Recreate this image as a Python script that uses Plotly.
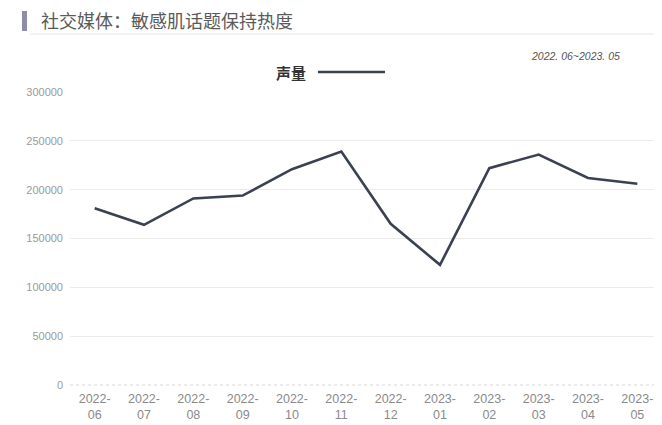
import plotly.graph_objects as go

categories = ["2022-<br>06", "2022-<br>07", "2022-<br>08", "2022-<br>09", "2022-<br>10", "2022-<br>11",
              "2022-<br>12", "2023-<br>01", "2023-<br>02", "2023-<br>03", "2023-<br>04", "2023-<br>05"]
volume = [181000, 164000, 191000, 194000, 221000, 239000, 165000, 123000, 222000, 236000, 212000, 206000]
y_ticks = [0, 50000, 100000, 150000, 200000, 250000, 300000]
series_name = "声量"
title_text = "社交媒体：敏感肌话题保持热度"
range_text = "2022. 06~2023. 05"

# page body has an 8px margin, so the figure is drawn offset by (8, 8)
OFF = 8
W, H = 662 - OFF, 425 - OFF
L, R, T, B = 70 - OFF, 0, 92 - OFF, 40
pw, ph = W - L - R, H - T - B

def px(x):
    return (x - OFF - L) / pw

def py(y):
    return (H - B - (y - OFF)) / ph

line_color = "#3a4252"
font = "Noto Sans CJK SC"

fig = go.Figure()
fig.add_trace(go.Scatter(
    x=categories, y=volume, mode="lines", name=series_name,
    line=dict(color=line_color, width=2.6), showlegend=False,
))

fig.update_layout(
    width=W, height=H,
    margin=dict(l=L, r=R, t=T, b=B),
    paper_bgcolor="white", plot_bgcolor="white",
    font=dict(family=font, color="#8a8a8a"),
    xaxis=dict(
        type="category", range=[-0.5, 11.5], showgrid=False, zeroline=False,
        showline=False, ticks="", ticklabelstandoff=4, automargin=False,
        tickfont=dict(size=12.5, color="#8a8a8a", family="Liberation Sans"),
    ),
    yaxis=dict(
        range=[0, 300000], tickvals=y_ticks, ticktext=[str(v) for v in y_ticks],
        showgrid=True, gridcolor="#ececec", gridwidth=1, zeroline=False,
        showline=False, ticks="", ticklabelstandoff=6, automargin=False,
        tickfont=dict(size=11, color="#9a9a9a", family="Liberation Sans"),
    ),
    shapes=[
        # title marker bar
        dict(type="rect", xref="paper", yref="paper", x0=px(22), x1=px(27), y0=py(31), y1=py(11),
             fillcolor="#8e8ca8", line=dict(width=0)),
        # title underline
        dict(type="line", xref="paper", yref="paper", x0=px(30), x1=px(662), y0=py(34), y1=py(34),
             line=dict(color="#e6e6e6", width=1)),
        # legend line
        dict(type="line", xref="paper", yref="paper", x0=px(318), x1=px(385), y0=py(72), y1=py(72),
             line=dict(color=line_color, width=2.6)),
        # dotted x axis baseline
        dict(type="line", xref="paper", yref="paper", x0=0, x1=1, y0=0, y1=0,
             line=dict(color="#d8d8d8", width=1, dash="dot")),
    ],
    annotations=[
        dict(text=title_text, xref="paper", yref="paper", x=px(39), y=py(20),
             xanchor="left", yanchor="middle", showarrow=False,
             font=dict(size=18, color="#5a5a5a", family=font)),
        dict(text="<b>" + series_name + "</b>", xref="paper", yref="paper", x=px(308), y=py(72),
             xanchor="right", yanchor="middle", showarrow=False,
             font=dict(size=15, color="#333333", family=font)),
        dict(text="<i>" + range_text + "</i>", xref="paper", yref="paper", x=px(622), y=py(56),
             xanchor="right", yanchor="middle", showarrow=False,
             font=dict(size=10.5, color="#555555", family="Liberation Sans")),
    ],
)

fig.write_html("out.html")
